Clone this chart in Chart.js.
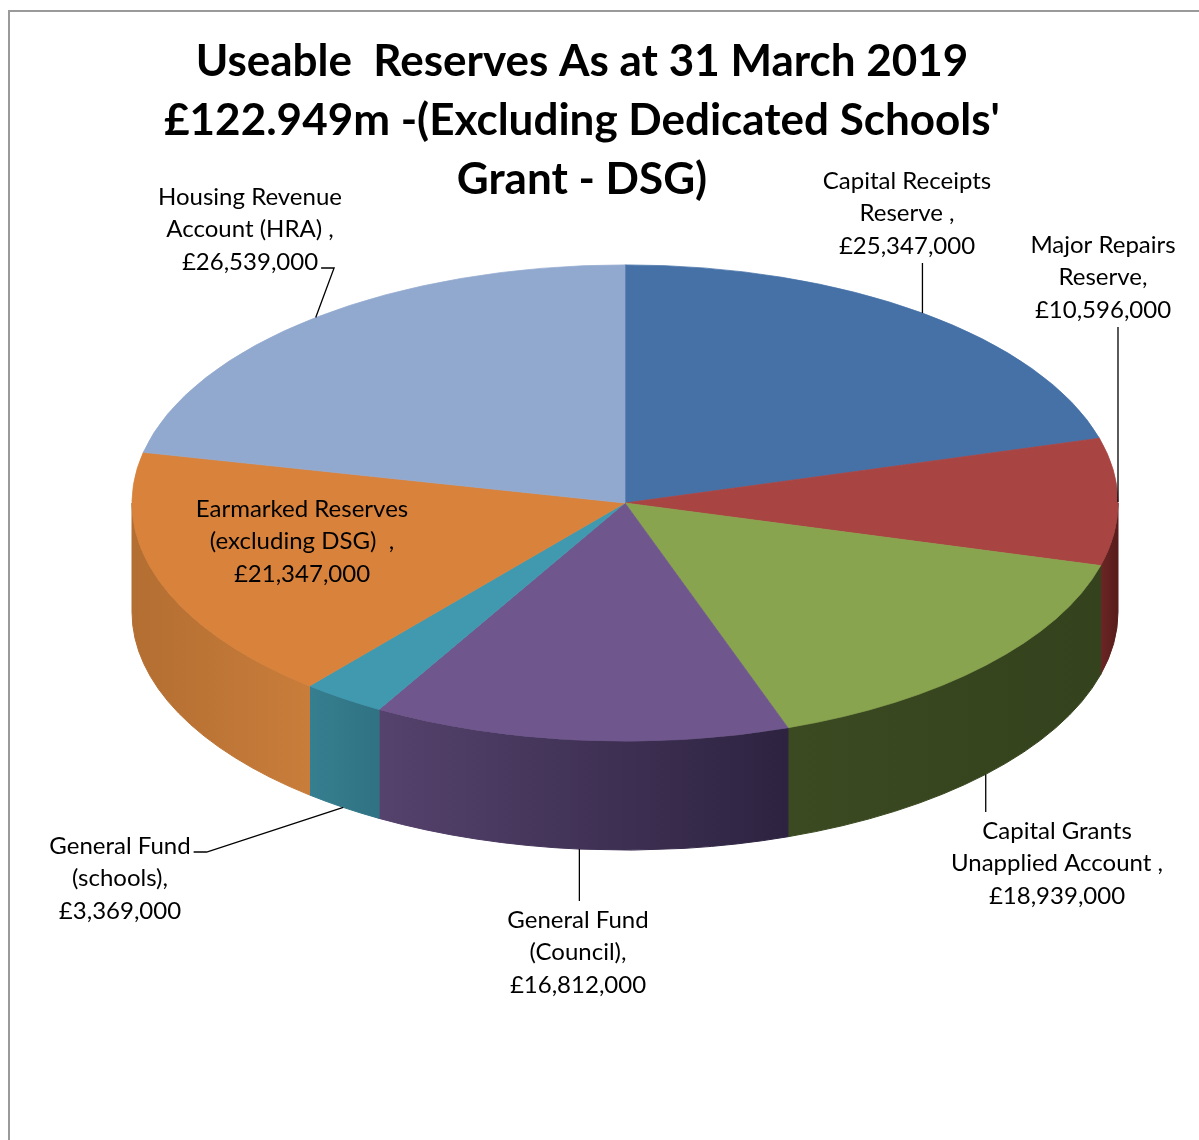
<!DOCTYPE html>
<html>
<head>
<meta charset="utf-8">
<script src="https://cdn.jsdelivr.net/npm/chart.js"></script>
<style>
    html, body { margin: 0; padding: 0; background: #fff; overflow: hidden; }
    #marco { position: absolute; left: 8px; top: 10px; width: 1400px; height: 1400px;
             border-left: 2px solid #9a9a9a; border-top: 2px solid #9a9a9a; }
    #contenedor { position: absolute; left: 0; top: 0; width: 1199px; height: 1140px; }
</style>
</head>
<body>
<div id="marco"></div>
<div id="contenedor"><canvas id="graficoTarta" width="1199" height="1140"></canvas></div>
<script>
// Datos del gráfico (orden en sentido horario desde las 12)
const categorias = [
    ['Capital Receipts', 'Reserve ,'],
    ['Major Repairs', 'Reserve,'],
    ['Capital Grants', 'Unapplied Account ,'],
    ['General Fund', '(Council),'],
    ['General Fund', '(schools),'],
    ['Earmarked Reserves', '(excluding DSG)  ,'],
    ['Housing Revenue', 'Account (HRA) ,']
];
const valores = [25347000, 10596000, 18939000, 16812000, 3369000, 21347000, 26539000];
const titulo = [
    'Useable  Reserves As at 31 March 2019',
    "£122.949m -(Excluding Dedicated Schools'",
    'Grant - DSG)'
];

// Colores de la cara superior y del lateral (izquierda -> derecha)
const colores = ['#4571A7', '#A84442', '#89A44E', '#6F578D', '#4099AF', '#D8823C', '#92A9CF'];
const coloresLado = [
    ['#3a5d8a', '#2f4c72'],
    ['#6a2624', '#571c1b'],
    ['#3b4a21', '#34421d'],
    ['#55426d', '#2d2340'],
    ['#367f90', '#2f7283'],
    ['#b36e31', '#c97d3b'],
    ['#7a8cad', '#6a7b99']
];

// Posición de las etiquetas: centro x, centro y de la primera línea, tipo de línea guía
const posEtiquetas = [
    { x: 907, y: 181, guia: 'abajo' },
    { x: 1103, y: 245, guia: 'abajo' },
    { x: 1057, y: 831, guia: 'arriba' },
    { x: 578, y: 920, guia: 'arriba' },
    { x: 120, y: 846, guia: 'codo', linea: 0 },
    { x: 302, y: 509, guia: null },
    { x: 250, y: 197, guia: 'codo', linea: 2 }
];

const achatado = 0.483;   // relación vertical/horizontal de la elipse
const grosor = 109;       // altura del lateral en px
const fuente = 'Lato, "Open Sans", sans-serif';
const interlineado = 32.5;

function formatoLibras(v) {
    return '£' + v.toLocaleString('en-GB');
}

function puntoElipse(arc, ang) {
    return {
        x: arc.x + arc.outerRadius * Math.cos(ang),
        y: arc.y + arc.outerRadius * achatado * Math.sin(ang)
    };
}

const tarta3D = {
    id: 'tarta3D',
    beforeDatasetsDraw(chart) {
        const ctx = chart.ctx;
        const arcos = chart.getDatasetMeta(0).data;
        // laterales de la parte delantera (ángulos entre 0 y PI)
        arcos.forEach((arc, i) => {
            const a0 = Math.max(arc.startAngle, 0);
            const a1 = Math.min(arc.endAngle, Math.PI);
            if (a0 >= a1) return;
            const r = arc.outerRadius;
            const p0 = puntoElipse(arc, a0);
            const p1 = puntoElipse(arc, a1);
            const grad = ctx.createLinearGradient(p1.x, 0, p0.x, 0);
            grad.addColorStop(0, coloresLado[i][0]);
            grad.addColorStop(1, coloresLado[i][1]);
            ctx.save();
            ctx.beginPath();
            ctx.ellipse(arc.x, arc.y, r, r * achatado, 0, a0, a1, false);
            ctx.lineTo(p1.x, p1.y + grosor);
            ctx.ellipse(arc.x, arc.y + grosor, r, r * achatado, 0, a1, a0, true);
            ctx.closePath();
            ctx.fillStyle = grad;
            ctx.fill();
            ctx.strokeStyle = grad;
            ctx.lineWidth = 1;
            ctx.stroke();
            ctx.restore();
        });
        // aplastar la cara superior
        const c = arcos[0];
        ctx.save();
        ctx.translate(c.x, c.y);
        ctx.scale(1, achatado);
        ctx.translate(-c.x, -c.y);
    },
    afterDatasetsDraw(chart) {
        chart.ctx.restore();
    },
    afterDraw(chart) {
        const ctx = chart.ctx;
        const arcos = chart.getDatasetMeta(0).data;
        ctx.save();
        // título
        ctx.fillStyle = '#000';
        ctx.textAlign = 'center';
        ctx.textBaseline = 'middle';
        ctx.font = 'bold 44px ' + fuente;
        titulo.forEach((t, i) => ctx.fillText(t, 582, 62 + i * 59));

        // etiquetas
        ctx.font = '24px ' + fuente;
        ctx.strokeStyle = '#000';
        ctx.lineWidth = 1.3;
        arcos.forEach((arc, i) => {
            const lineas = categorias[i].concat([formatoLibras(valores[i])]);
            const pos = posEtiquetas[i];
            lineas.forEach((l, j) => ctx.fillText(l, pos.x, pos.y + j * interlineado));
            if (!pos.guia) return;
            const medio = (arc.startAngle + arc.endAngle) / 2;
            const p = puntoElipse(arc, medio);
            if (Math.sin(medio) > 0) p.y += grosor;
            ctx.beginPath();
            if (pos.guia === 'abajo') {
                ctx.moveTo(p.x, pos.y + (lineas.length - 1) * interlineado + 17);
                ctx.lineTo(p.x, p.y);
            } else if (pos.guia === 'arriba') {
                ctx.moveTo(p.x, pos.y - 19);
                ctx.lineTo(p.x, p.y);
            } else {
                const ly = pos.y + pos.linea * interlineado + 6;
                const ancho = ctx.measureText(lineas[pos.linea]).width;
                const x0 = pos.x + ancho / 2 + 3;
                ctx.moveTo(x0, ly);
                ctx.lineTo(x0 + 13, ly);
                ctx.lineTo(p.x, p.y);
            }
            ctx.stroke();
        });
        ctx.restore();
    }
};

const ctx = document.getElementById('graficoTarta').getContext('2d');
new Chart(ctx, {
    type: 'pie',
    data: {
        labels: categorias.map(c => c.join(' ')),
        datasets: [{
            data: valores,
            backgroundColor: colores,
            borderColor: colores,
            borderWidth: 1,
            hoverOffset: 0,
            radius: 493
        }]
    },
    options: {
        responsive: false,
        animation: false,
        events: [],
        layout: { padding: { left: 51, right: 0, top: 0, bottom: 134 } },
        plugins: {
            legend: { display: false },
            title: { display: false },
            tooltip: { enabled: false }
        }
    },
    plugins: [tarta3D]
});
</script>
</body>
</html>
